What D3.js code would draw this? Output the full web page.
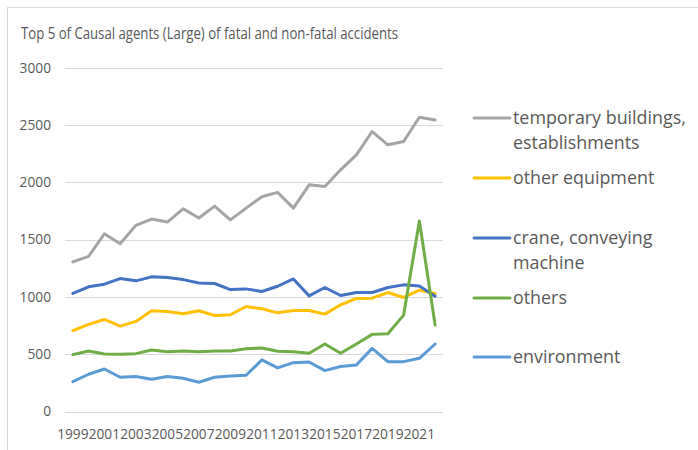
<!DOCTYPE html>
<html><head><meta charset="utf-8">
<script src="https://cdn.jsdelivr.net/npm/d3@7"></script>
<style>
html,body{margin:0;padding:0;background:#fff;}
svg{display:block;font-family:"Open Sans","Liberation Sans",sans-serif;}
</style></head>
<body>
<svg id="c" width="698" height="450"></svg>
<script>
const years = d3.range(1999, 2023).map(String);
const tickLabels = ["1999","2001","2003","2005","2007","2009","2011","2013","2015","2017","2019","2021"];
const yTicks = [0,500,1000,1500,2000,2500,3000];
const seriesNames = ["temporary buildings, establishments","other equipment","crane, conveying machine","others","environment"];
const legendLines = [["temporary buildings,","establishments"],["other equipment"],["crane, conveying","machine"],["others"],["environment"]];
const colors = ["#A5A5A5","#FFC000","#4472C4","#70AD47","#5B9BD5"];
const temporaryBuildings = [1305,1354,1551,1464,1624,1679,1653,1769,1688,1792,1672,1775,1874,1912,1775,1978,1964,2109,2240,2443,2327,2356,2568,2544];
const otherEquipment = [705,760,803,745,786,879,873,853,879,838,844,916,896,861,882,882,850,931,986,989,1038,995,1059,1030];
const crane = [1030,1088,1111,1160,1140,1175,1169,1151,1122,1117,1064,1070,1047,1093,1157,1009,1082,1012,1038,1038,1082,1105,1096,1006];
const others = [496,528,502,499,505,537,522,528,522,528,528,548,554,525,522,508,589,508,589,673,679,841,1662,754];
const environment = [261,325,371,299,305,281,305,290,255,299,310,316,450,380,426,432,357,392,406,551,435,435,464,589];
const seriesValues = [temporaryBuildings, otherEquipment, crane, others, environment];

const svg = d3.select("#c");
const textColor = "#595959";
svg.append("rect").attr("x",7.5).attr("y",7.5).attr("width",700).attr("height",450)
  .attr("fill","#fff").attr("stroke","#D9D9D9").attr("stroke-width",1);

svg.append("text").attr("x",21).attr("y",39).attr("font-size",16)
  .attr("fill",textColor).attr("textLength",377).attr("lengthAdjust","spacingAndGlyphs")
  .text("Top 5 of Causal agents (Large) of fatal and non-fatal accidents");

const x = d3.scaleBand().domain(years).range([65,443]);
const y = d3.scaleLinear().domain([0,3000]).range([411.5,67.7]);

svg.append("g").selectAll("line").data(yTicks).join("line")
  .attr("x1",65).attr("x2",443).attr("y1",d=>Math.round(y(d))+0.5).attr("y2",d=>Math.round(y(d))+0.5)
  .attr("stroke","#D9D9D9").attr("stroke-width",1);

const yl = svg.append("g").selectAll("text").data(yTicks).join("text")
  .attr("x",51).attr("y",d=>y(d)).attr("dy","0.35em").attr("text-anchor","end")
  .attr("font-size",14).attr("fill",textColor).text(d=>d);

const xl = svg.append("g").selectAll("text").data(tickLabels).join("text")
  .attr("x",d=>x(d)+x.bandwidth()/2).attr("y",439).attr("text-anchor","middle")
  .attr("font-size",14).attr("fill",textColor).text(d=>d);
{ const n = xl.node(); const w = n.getComputedTextLength(); const fs = 14*31.4/w;
  xl.attr("font-size",fs); yl.attr("font-size",fs); }

const line = d3.line().x((d,i)=>x(years[i])+x.bandwidth()/2).y(d=>y(d));
svg.append("g").selectAll("path").data(seriesValues).join("path")
  .attr("d",line).attr("fill","none").attr("stroke",(d,i)=>colors[i])
  .attr("stroke-width",3).attr("stroke-linejoin","round").attr("stroke-linecap","round");

const legY = [118,178,238,298,357];
const lg = svg.append("g");
seriesNames.forEach((nm,i)=>{
  const g = lg.append("g");
  g.append("line").attr("x1",474).attr("x2",510).attr("y1",legY[i]).attr("y2",legY[i])
    .attr("stroke",colors[i]).attr("stroke-width",3).attr("stroke-linecap","round");
  const t = g.append("text").attr("x",513).attr("y",legY[i])
    .attr("font-size",17).attr("fill",textColor);
  legendLines[i].forEach((ln,j)=>{
    t.append("tspan").attr("x",513).attr("dy", j===0? "0.35em" : 25).text(ln);
  });
});
{ const first = lg.select("text tspan").node(); const w = first.getComputedTextLength();
  const fs = 17*173/w; lg.selectAll("text").attr("font-size",fs); }
</script>
</body></html>
